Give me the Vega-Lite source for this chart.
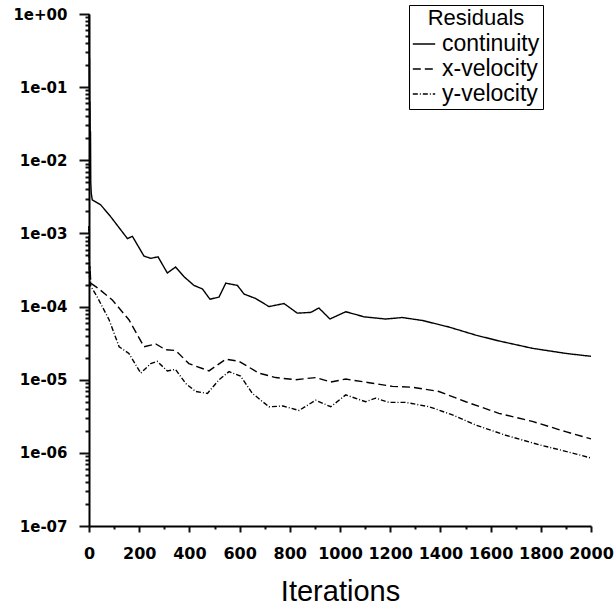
{
  "$schema": "https://vega.github.io/schema/vega-lite/v6.json",
  "width": 502,
  "height": 512,
  "autosize": {"type": "none"},
  "padding": {"left": 89, "top": 14, "right": 25, "bottom": 83},
  "background": "white",
  "config": {
    "view": {"stroke": null},
    "axis": {"grid": false, "domainColor": "black", "labelColor": "black", "titleColor": "black", "domainWidth": 2}
  },
  "data": {
    "values": [
      {"iteration": 0, "residual": "continuity", "value": 1.0},
      {"iteration": 1, "residual": "continuity", "value": 0.1},
      {"iteration": 2, "residual": "continuity", "value": 0.25},
      {"iteration": 3, "residual": "continuity", "value": 0.032},
      {"iteration": 4, "residual": "continuity", "value": 0.063},
      {"iteration": 5, "residual": "continuity", "value": 0.016},
      {"iteration": 6, "residual": "continuity", "value": 0.025},
      {"iteration": 7, "residual": "continuity", "value": 0.005},
      {"iteration": 9, "residual": "continuity", "value": 0.00355},
      {"iteration": 13, "residual": "continuity", "value": 0.00288},
      {"iteration": 47, "residual": "continuity", "value": 0.00245},
      {"iteration": 86, "residual": "continuity", "value": 0.0017},
      {"iteration": 153, "residual": "continuity", "value": 0.000851},
      {"iteration": 173, "residual": "continuity", "value": 0.000912},
      {"iteration": 219, "residual": "continuity", "value": 0.00049},
      {"iteration": 246, "residual": "continuity", "value": 0.000457},
      {"iteration": 275, "residual": "continuity", "value": 0.000479},
      {"iteration": 312, "residual": "continuity", "value": 0.000288},
      {"iteration": 345, "residual": "continuity", "value": 0.000347},
      {"iteration": 378, "residual": "continuity", "value": 0.000257},
      {"iteration": 418, "residual": "continuity", "value": 0.000195},
      {"iteration": 452, "residual": "continuity", "value": 0.000174},
      {"iteration": 482, "residual": "continuity", "value": 0.000126},
      {"iteration": 518, "residual": "continuity", "value": 0.000135},
      {"iteration": 545, "residual": "continuity", "value": 0.000209},
      {"iteration": 591, "residual": "continuity", "value": 0.000195},
      {"iteration": 618, "residual": "continuity", "value": 0.000148},
      {"iteration": 664, "residual": "continuity", "value": 0.000129},
      {"iteration": 717, "residual": "continuity", "value": 0.0001},
      {"iteration": 777, "residual": "continuity", "value": 0.00011},
      {"iteration": 830, "residual": "continuity", "value": 0.0000813},
      {"iteration": 883, "residual": "continuity", "value": 0.0000832},
      {"iteration": 916, "residual": "continuity", "value": 0.0000955},
      {"iteration": 960, "residual": "continuity", "value": 0.0000676},
      {"iteration": 1023, "residual": "continuity", "value": 0.0000851},
      {"iteration": 1096, "residual": "continuity", "value": 0.0000724},
      {"iteration": 1182, "residual": "continuity", "value": 0.0000676},
      {"iteration": 1248, "residual": "continuity", "value": 0.0000708},
      {"iteration": 1328, "residual": "continuity", "value": 0.0000646},
      {"iteration": 1434, "residual": "continuity", "value": 0.0000525},
      {"iteration": 1541, "residual": "continuity", "value": 0.0000407},
      {"iteration": 1633, "residual": "continuity", "value": 0.0000339},
      {"iteration": 1766, "residual": "continuity", "value": 0.0000269},
      {"iteration": 1899, "residual": "continuity", "value": 0.0000229},
      {"iteration": 2000, "residual": "continuity", "value": 0.0000209},
      {"iteration": 0, "residual": "x-velocity", "value": 0.00126},
      {"iteration": 2, "residual": "x-velocity", "value": 0.000282},
      {"iteration": 4, "residual": "x-velocity", "value": 0.000355},
      {"iteration": 7, "residual": "x-velocity", "value": 0.000209},
      {"iteration": 40, "residual": "x-velocity", "value": 0.000174},
      {"iteration": 93, "residual": "x-velocity", "value": 0.000123},
      {"iteration": 159, "residual": "x-velocity", "value": 0.000066},
      {"iteration": 219, "residual": "x-velocity", "value": 0.0000282},
      {"iteration": 266, "residual": "x-velocity", "value": 0.0000309},
      {"iteration": 305, "residual": "x-velocity", "value": 0.0000257},
      {"iteration": 345, "residual": "x-velocity", "value": 0.0000251},
      {"iteration": 398, "residual": "x-velocity", "value": 0.0000166},
      {"iteration": 478, "residual": "x-velocity", "value": 0.0000132},
      {"iteration": 545, "residual": "x-velocity", "value": 0.0000191},
      {"iteration": 598, "residual": "x-velocity", "value": 0.0000178},
      {"iteration": 677, "residual": "x-velocity", "value": 0.0000123},
      {"iteration": 744, "residual": "x-velocity", "value": 0.0000107},
      {"iteration": 823, "residual": "x-velocity", "value": 0.00001},
      {"iteration": 903, "residual": "x-velocity", "value": 0.0000107},
      {"iteration": 963, "residual": "x-velocity", "value": 0.0000093},
      {"iteration": 1023, "residual": "x-velocity", "value": 0.0000102},
      {"iteration": 1116, "residual": "x-velocity", "value": 0.0000091},
      {"iteration": 1209, "residual": "x-velocity", "value": 0.0000081},
      {"iteration": 1288, "residual": "x-velocity", "value": 0.0000079},
      {"iteration": 1394, "residual": "x-velocity", "value": 0.0000069},
      {"iteration": 1501, "residual": "x-velocity", "value": 0.000005},
      {"iteration": 1633, "residual": "x-velocity", "value": 0.00000347},
      {"iteration": 1766, "residual": "x-velocity", "value": 0.00000269},
      {"iteration": 1899, "residual": "x-velocity", "value": 0.00000195},
      {"iteration": 2000, "residual": "x-velocity", "value": 0.00000155},
      {"iteration": 0, "residual": "y-velocity", "value": 0.00126},
      {"iteration": 2, "residual": "y-velocity", "value": 0.000251},
      {"iteration": 4, "residual": "y-velocity", "value": 0.000316},
      {"iteration": 7, "residual": "y-velocity", "value": 0.00019},
      {"iteration": 33, "residual": "y-velocity", "value": 0.000135},
      {"iteration": 80, "residual": "y-velocity", "value": 0.000066},
      {"iteration": 120, "residual": "y-velocity", "value": 0.0000282},
      {"iteration": 159, "residual": "y-velocity", "value": 0.0000229},
      {"iteration": 206, "residual": "y-velocity", "value": 0.0000123},
      {"iteration": 246, "residual": "y-velocity", "value": 0.0000166},
      {"iteration": 272, "residual": "y-velocity", "value": 0.0000178},
      {"iteration": 312, "residual": "y-velocity", "value": 0.0000132},
      {"iteration": 345, "residual": "y-velocity", "value": 0.0000138},
      {"iteration": 385, "residual": "y-velocity", "value": 0.0000089},
      {"iteration": 425, "residual": "y-velocity", "value": 0.0000069},
      {"iteration": 472, "residual": "y-velocity", "value": 0.0000065},
      {"iteration": 518, "residual": "y-velocity", "value": 0.00001},
      {"iteration": 558, "residual": "y-velocity", "value": 0.0000129},
      {"iteration": 604, "residual": "y-velocity", "value": 0.0000112},
      {"iteration": 651, "residual": "y-velocity", "value": 0.0000065},
      {"iteration": 717, "residual": "y-velocity", "value": 0.00000427},
      {"iteration": 773, "residual": "y-velocity", "value": 0.00000437},
      {"iteration": 837, "residual": "y-velocity", "value": 0.0000038},
      {"iteration": 903, "residual": "y-velocity", "value": 0.00000525},
      {"iteration": 963, "residual": "y-velocity", "value": 0.00000427},
      {"iteration": 1023, "residual": "y-velocity", "value": 0.0000062},
      {"iteration": 1102, "residual": "y-velocity", "value": 0.000005},
      {"iteration": 1142, "residual": "y-velocity", "value": 0.0000056},
      {"iteration": 1195, "residual": "y-velocity", "value": 0.0000049},
      {"iteration": 1262, "residual": "y-velocity", "value": 0.0000049},
      {"iteration": 1355, "residual": "y-velocity", "value": 0.00000427},
      {"iteration": 1448, "residual": "y-velocity", "value": 0.00000331},
      {"iteration": 1541, "residual": "y-velocity", "value": 0.0000024},
      {"iteration": 1660, "residual": "y-velocity", "value": 0.00000174},
      {"iteration": 1793, "residual": "y-velocity", "value": 0.00000129},
      {"iteration": 1899, "residual": "y-velocity", "value": 0.00000105},
      {"iteration": 2000, "residual": "y-velocity", "value": 0.00000085}
    ]
  },
  "mark": {"type": "line", "color": "black", "strokeWidth": 1.4},
  "encoding": {
    "x": {
      "field": "iteration", "type": "quantitative",
      "scale": {"domain": [0, 2000], "nice": false},
      "axis": {
        "values": [0, 100, 200, 300, 400, 500, 600, 700, 800, 900, 1000, 1100, 1200, 1300, 1400, 1500, 1600, 1700, 1800, 1900, 2000],
        "format": "d", "labelOverlap": false, "labelFlush": false,
        "labelExpr": "datum.value % 200 == 0 ? datum.label : ''",
        "tickColor": "#111111", "tickWidth": 2,
        "tickSize": {"condition": {"test": "datum.value % 200 == 0", "value": 6}, "value": 3},
        "labelPadding": 13,
        "labelFont": "DejaVu Sans", "labelFontWeight": "bold", "labelFontSize": 16,
        "title": "Iterations", "titleFont": "Liberation Sans", "titleFontSize": 29,
        "titleFontWeight": "normal", "titlePadding": 16
      }
    },
    "y": {
      "field": "value", "type": "quantitative",
      "scale": {"type": "log", "domain": [1e-7, 1], "nice": false},
      "axis": {
        "orient": "left",
        "values": [1e-7, 2e-7, 3e-7, 4e-7, 5e-7, 6e-7, 7e-7, 8e-7, 9e-7, 1e-6, 2e-6, 3e-6, 4e-6, 5e-6, 6e-6, 7e-6, 8e-6, 9e-6, 1e-5, 2e-5, 3e-5, 4e-5, 5e-5, 6e-5, 7e-5, 8e-5, 9e-5, 1e-4, 2e-4, 3e-4, 4e-4, 5e-4, 6e-4, 7e-4, 8e-4, 9e-4, 1e-3, 2e-3, 3e-3, 4e-3, 5e-3, 6e-3, 7e-3, 8e-3, 9e-3, 1e-2, 2e-2, 3e-2, 4e-2, 5e-2, 6e-2, 7e-2, 8e-2, 9e-2, 0.1, 0.2, 0.3, 0.4, 0.5, 0.6, 0.7, 0.8, 0.9, 1],
        "labelOverlap": false,
        "tickColor": "#111111", "tickWidth": 2,
        "tickSize": {"condition": {"test": "abs(log(datum.value) / LN10 - round(log(datum.value) / LN10)) < 0.01", "value": 10}, "value": 4},
        "labelPadding": 12,
        "labelFont": "DejaVu Sans", "labelFontWeight": "bold", "labelFontSize": 15,
        "labelExpr": "abs(log(datum.value) / LN10 - round(log(datum.value) / LN10)) >= 0.01 ? '' : (datum.value >= 1 ? '1e+00' : '1e-0' + round(-log(datum.value) / LN10))",
        "title": null
      }
    },
    "strokeDash": {
      "field": "residual", "type": "nominal",
      "scale": {"domain": ["continuity", "x-velocity", "y-velocity"], "range": [[1, 0], [8, 4], [5, 2, 1, 2]]},
      "legend": {
        "orient": "none", "legendX": 320, "legendY": -9,
        "title": "Residuals", "titleAnchor": "middle",
        "titleFont": "Liberation Sans", "titleFontSize": 22, "titleFontWeight": "normal", "titleColor": "black", "titlePadding": 2,
        "labelFont": "Liberation Sans", "labelFontSize": 23, "labelColor": "black", "labelOffset": 6,
        "symbolType": "stroke", "symbolSize": 500, "symbolStrokeWidth": 1.5, "symbolStrokeColor": "black",
        "strokeColor": "black", "fillColor": "white", "padding": 3, "rowPadding": 1
      }
    }
  }
}
